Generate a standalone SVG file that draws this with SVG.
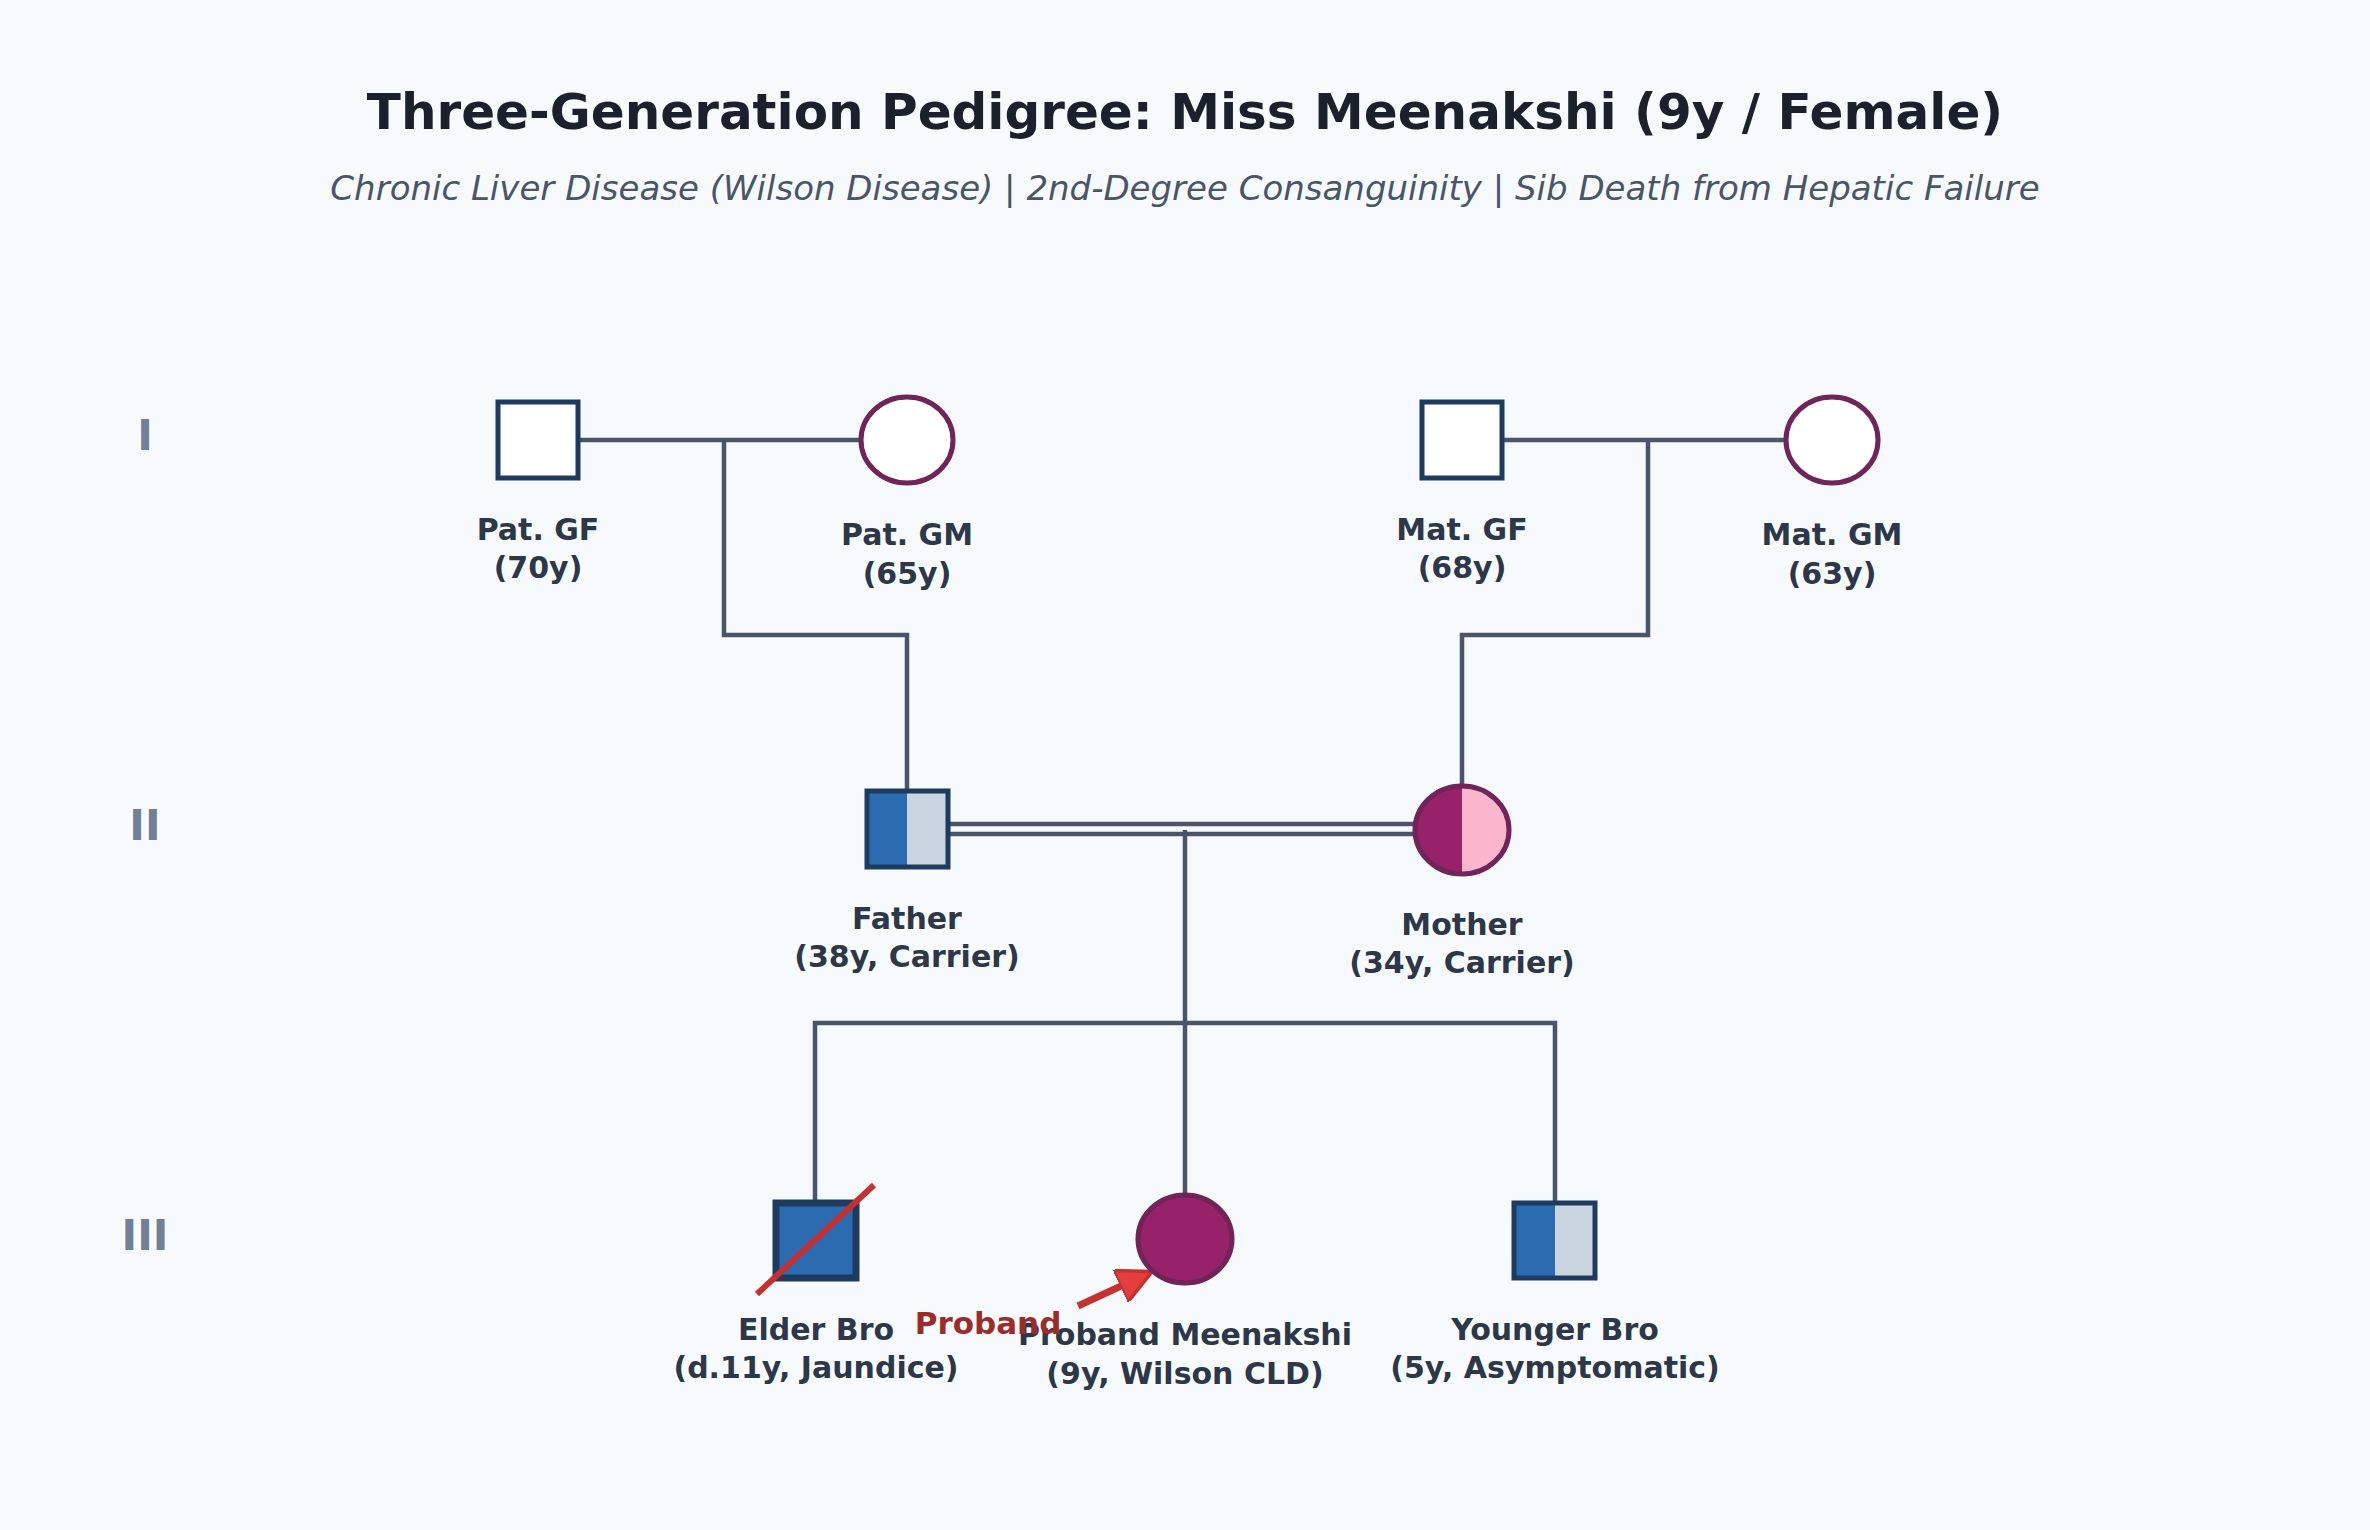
<svg xmlns="http://www.w3.org/2000/svg" width="2370" height="1530" viewBox="0 0 2370 1530">
<defs>
<style>
text{font-family:"DejaVu Sans",sans-serif;text-anchor:middle}
.lbl{font-size:30px;font-weight:bold;fill:#2d3748}
.gen{font-size:42px;font-weight:bold;fill:#718096}
.ln{stroke:#4a5568;stroke-width:4.5;fill:none}
.m{stroke:#1e3a5f;stroke-width:5}
.f{stroke:#702459;stroke-width:5}
</style>
<marker id="ah" viewBox="0 0 10 10" refX="9" refY="5" markerWidth="5" markerHeight="5" orient="auto"><path d="M0,0L10,5L0,10z" fill="#e53e3e" stroke="#c53030"/></marker>
<clipPath id="cm"><ellipse cx="1462" cy="830" rx="47" ry="44"/></clipPath>
</defs>
<rect width="2370" height="1530" fill="#f7fafc"/>
<text x="1185" y="129" font-size="50" font-weight="bold" fill="#1a202c">Three-Generation Pedigree: Miss Meenakshi (9y / Female)</text>
<text x="1185" y="200" font-size="34" font-style="italic" fill="#4a5568">Chronic Liver Disease (Wilson Disease) | 2nd-Degree Consanguinity | Sib Death from Hepatic Failure</text>
<text class="gen" x="145" y="450">I</text>
<text class="gen" x="145" y="840">II</text>
<text class="gen" x="145" y="1250">III</text>
<g id="connectors">
<path class="ln" d="M579,440H861M724,440V635H907V790"/>
<path class="ln" d="M1504,440H1786M1648,440V635H1462V786"/>
<path class="ln" d="M948,824H1415M948,834H1415"/>
<path class="ln" d="M1185,830V1197M815,1203V1023H1555V1203"/>
<line x1="1078" y1="1306" x2="1149" y2="1273" stroke="#c53030" stroke-width="7" marker-end="url(#ah)"/>
</g>
<g id="patgf"><rect class="m" x="498" y="402" width="80" height="76" fill="#fff"/><text class="lbl" x="538" y="540">Pat. GF</text><text class="lbl" x="538" y="578">(70y)</text></g>
<g id="patgm"><ellipse class="f" cx="907" cy="440" rx="46" ry="43" fill="#fff"/><text class="lbl" x="907" y="545">Pat. GM</text><text class="lbl" x="907" y="584">(65y)</text></g>
<g id="matgf"><rect class="m" x="1422" y="402" width="80" height="76" fill="#fff"/><text class="lbl" x="1462" y="540">Mat. GF</text><text class="lbl" x="1462" y="578">(68y)</text></g>
<g id="matgm"><ellipse class="f" cx="1832" cy="440" rx="46" ry="43" fill="#fff"/><text class="lbl" x="1832" y="545">Mat. GM</text><text class="lbl" x="1832" y="584">(63y)</text></g>
<g id="father"><rect x="867" y="791" width="41" height="76" fill="#2b6cb0"/><rect x="907" y="791" width="41" height="76" fill="#cbd5e0"/><rect class="m" x="867" y="791" width="81" height="76" fill="none"/><text class="lbl" x="907" y="929">Father</text><text class="lbl" x="907" y="967">(38y, Carrier)</text></g>
<g id="mother"><g clip-path="url(#cm)"><rect x="1412" y="784" width="50" height="92" fill="#97226a"/><rect x="1462" y="784" width="50" height="92" fill="#fbb6ce"/></g><ellipse class="f" cx="1462" cy="830" rx="47" ry="44" fill="none"/><text class="lbl" x="1462" y="935">Mother</text><text class="lbl" x="1462" y="973">(34y, Carrier)</text></g>
<g id="elder"><rect x="776" y="1203" width="80" height="75" fill="#2b6cb0" stroke="#1e3a5f" stroke-width="7"/><line x1="757" y1="1294" x2="874" y2="1185" stroke="#c53030" stroke-width="6"/><text class="lbl" x="816" y="1340">Elder Bro</text><text class="lbl" x="816" y="1378">(d.11y, Jaundice)</text></g>
<g id="proband"><ellipse cx="1185" cy="1239" rx="47" ry="44" fill="#97226a" stroke="#702459" stroke-width="5"/><text class="lbl" x="1185" y="1345">Proband Meenakshi</text><text class="lbl" x="1185" y="1384">(9y, Wilson CLD)</text><text x="988" y="1334" font-size="31" font-weight="bold" fill="#9b2c2c">Proband</text></g>
<g id="younger"><rect x="1514" y="1203" width="41" height="75" fill="#2b6cb0"/><rect x="1555" y="1203" width="40" height="75" fill="#cbd5e0"/><rect class="m" x="1514" y="1203" width="81" height="75" fill="none"/><text class="lbl" x="1555" y="1340">Younger Bro</text><text class="lbl" x="1555" y="1378">(5y, Asymptomatic)</text></g>
</svg>
